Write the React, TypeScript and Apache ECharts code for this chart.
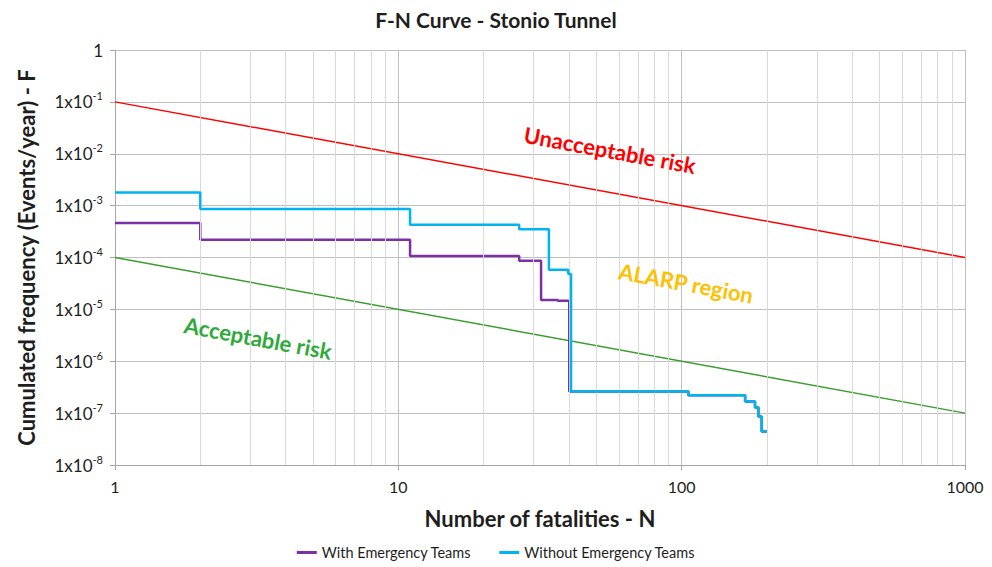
import React, { useEffect, useRef } from "react";
import * as echarts from "echarts";

const withTeams: [number, number][] = [
  [1, 4.6e-4], [2, 2.2e-4], [11, 1.07e-4], [26.7, 8.7e-5], [31.9, 1.52e-5],
  [36.5, 1.47e-5], [40.1, 2.6e-7], [105.6, 2.2e-7], [167.5, 1.67e-7],
  [181.5, 1.28e-7], [186.6, 8.6e-8], [191.6, 4.4e-8], [199.6, 4.4e-8],
];
const withoutTeams: [number, number][] = [
  [1, 1.8e-3], [2, 8.6e-4], [11, 4.3e-4], [26.7, 3.5e-4], [34, 5.8e-5],
  [39.8, 4.8e-5], [40.7, 2.6e-7], [105.6, 2.2e-7], [167.5, 1.67e-7],
  [181.5, 1.28e-7], [186.6, 8.6e-8], [191.6, 4.4e-8], [199.6, 4.4e-8],
];
const unacceptableLimit: [number, number][] = [[1, 1e-1], [1000, 1e-4]];
const acceptableLimit: [number, number][] = [[1, 1e-4], [1000, 1e-7]];
const minorXTicks: number[] = [2, 3, 4, 5, 6, 7, 8, 9, 20, 30, 40, 50, 60, 70, 80, 90, 200, 300, 400, 500, 600, 700, 800, 900];

const FONT = "Lato, 'Open Sans', sans-serif";
const INK = "#1E1E1E";

export default function App() {
  const ref = useRef<HTMLDivElement>(null);
  useEffect(() => {
    if (!ref.current) return;
    const chart = echarts.init(ref.current, undefined, { renderer: "svg" });
    const rot = -Math.atan(156 / 850);
    chart.setOption({
      animation: false,
      textStyle: { fontFamily: FONT },
      title: {
        text: "F-N Curve - Stonio Tunnel",
        left: "center",
        top: 4,
        textStyle: { fontFamily: FONT, fontSize: 21, fontWeight: "bold", color: INK },
      },
      grid: { left: 115, right: 27, top: 50, bottom: 102, containLabel: false },
      legend: {
        bottom: 2,
        left: "center",
        itemGap: 28,
        itemWidth: 20,
        itemHeight: 3,
        icon: "rect",
        data: ["With Emergency Teams", "Without Emergency Teams"],
        textStyle: { fontFamily: FONT, fontSize: 14.5, color: INK },
      },
      xAxis: {
        type: "log",
        logBase: 10,
        min: 1,
        max: 1000,
        splitNumber: 3,
        name: "Number of fatalities - N",
        nameLocation: "middle",
        nameGap: 42,
        nameTextStyle: { fontFamily: FONT, fontSize: 22, fontWeight: "bold", color: INK },
        axisLine: { show: true, lineStyle: { color: "#A6A6A6" } },
        axisTick: { show: true, length: 5, lineStyle: { color: "#A6A6A6" } },
        axisLabel: {
          fontFamily: FONT,
          fontSize: 16,
          color: INK,
          margin: 13,
          formatter: (v: number) => String(Math.round(v)),
        },
        splitLine: { show: true, lineStyle: { color: "#BFBFBF", width: 1 } },
      },
      yAxis: {
        type: "log",
        logBase: 10,
        min: 1e-8,
        max: 1,
        splitNumber: 8,
        name: "Cumulated frequency (Events/year) - F",
        nameLocation: "middle",
        nameGap: 78,
        nameTextStyle: { fontFamily: FONT, fontSize: 22, fontWeight: "bold", color: INK },
        axisLine: { show: true, lineStyle: { color: "#A6A6A6" } },
        axisTick: { show: true, length: 5, lineStyle: { color: "#A6A6A6" } },
        axisLabel: {
          fontFamily: FONT,
          fontSize: 17,
          color: INK,
          margin: 12,
          formatter: (v: number) => {
            const e = Math.round(Math.log10(v));
            if (e === 0) return "1";
            return "1x10{s|" + e + "}";
          },
          rich: {
            s: { fontFamily: FONT, fontSize: 11, color: INK, padding: [0, 0, 12, 0] },
          },
        },
        splitLine: { show: true, lineStyle: { color: "#BFBFBF", width: 1 } },
      },
      series: [
        {
          name: "minor",
          type: "line",
          data: [],
          z: 1,
          silent: true,
          markLine: {
            silent: true,
            symbol: "none",
            label: { show: false },
            lineStyle: { color: "#D9D9D9", width: 1, type: "solid" },
            data: minorXTicks.map((x) => ({ xAxis: x })),
          },
        },
        {
          name: "Unacceptable",
          type: "line",
          data: unacceptableLimit,
          symbol: "none",
          z: 3,
          lineStyle: { color: "#FF0000", width: 1.5 },
        },
        {
          name: "Acceptable",
          type: "line",
          data: acceptableLimit,
          symbol: "none",
          z: 3,
          lineStyle: { color: "#3A9E2E", width: 1.5 },
        },
        {
          name: "With Emergency Teams",
          type: "line",
          step: "end",
          data: withTeams,
          symbol: "none",
          z: 4,
          color: "#7B30A6",
          lineStyle: { color: "#7B30A6", width: 2.5 },
        },
        {
          name: "Without Emergency Teams",
          type: "line",
          step: "end",
          data: withoutTeams,
          symbol: "none",
          z: 5,
          color: "#00B4F0",
          lineStyle: { color: "#00B4F0", width: 2.5 },
        },
      ],
      graphic: [
        {
          type: "text",
          x: 610,
          y: 150,
          rotation: rot,
          z: 10,
          style: {
            text: "Unacceptable risk",
            fill: "#FF0000",
            font: "bold 22px " + FONT,
            align: "center",
            verticalAlign: "middle",
          },
        },
        {
          type: "text",
          x: 686,
          y: 283,
          rotation: rot,
          z: 10,
          style: {
            text: "ALARP region",
            fill: "#FFC000",
            font: "bold 22px " + FONT,
            align: "center",
            verticalAlign: "middle",
          },
        },
        {
          type: "text",
          x: 258,
          y: 338,
          rotation: rot,
          z: 10,
          style: {
            text: "Acceptable risk",
            fill: "#2EAA3A",
            font: "bold 22px " + FONT,
            align: "center",
            verticalAlign: "middle",
          },
        },
      ],
    });
    return () => chart.dispose();
  }, []);
  return <div ref={ref} style={{ width: 992, height: 567, position: "absolute", left: 0, top: 0 }} />;
}
